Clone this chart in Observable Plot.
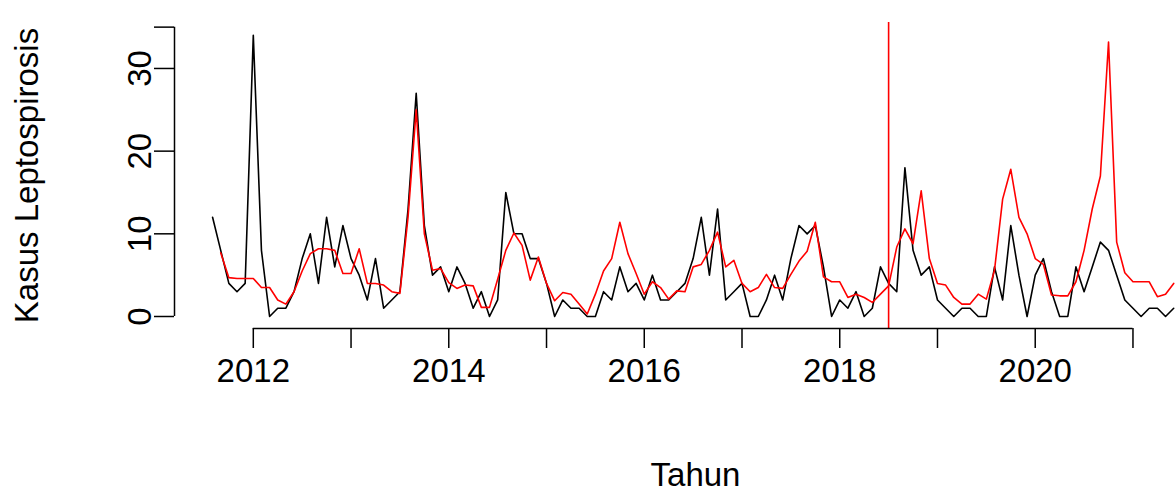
<!DOCTYPE html>
<html><head><meta charset="utf-8">
<script src="https://cdn.jsdelivr.net/npm/d3@7"></script>
<script src="https://cdn.jsdelivr.net/npm/@observablehq/plot@0.6"></script>
<style>html,body{margin:0;padding:0;background:#fff} svg{display:block}</style>
</head><body><div id="chart"></div>
<script>
// Monthly series, starting August 2011
const startYear = 2011, startMonth = 8;
const aktual = [
  12, 8, 4, 3, 4,
  34, 8, 0, 1, 1, 3, 7, 10, 4, 12, 6, 11,
  7, 5, 2, 7, 1, 2, 3, 13, 27, 11, 5, 6,
  3, 6, 4, 1, 3, 0, 2, 15, 10, 10, 7, 7,
  4, 0, 2, 1, 1, 0, 0, 3, 2, 6, 3, 4,
  2, 5, 2, 2, 3, 4, 7, 12, 5, 13, 2, 3,
  4, 0, 0, 2, 5, 2, 7, 11, 10, 11, 6, 0,
  2, 1, 3, 0, 1, 6, 4, 3, 18, 8, 5, 6,
  2, 1, 0, 1, 1, 0, 0, 6, 2, 11, 5, 0,
  5, 7, 3, 0, 0, 6, 3, 6, 9, 8, 5, 2,
  1, 0, 1, 1, 0, 1
];
const prediksi = [
  null, 7.7, 4.7, 4.6, 4.6,
  4.6, 3.5, 3.5, 2, 1.5, 3, 5.5, 7.6, 8.2, 8.2, 8, 5.2,
  5.2, 8.2, 4, 4, 3.8, 3, 2.8, 12, 25, 10, 5.6, 5.8,
  4.1, 3.4, 3.8, 3.7, 1.1, 1.1, 4.5, 8, 10.1, 8.6, 4.4, 7.2,
  4, 1.9, 2.9, 2.7, 1.5, 0.3, 2.7, 5.5, 7, 11.4, 7.6, 5.2,
  2.7, 4.2, 3.5, 2.1, 3.1, 3, 6, 6.3, 8, 10.2, 6, 6.8,
  4, 3, 3.5, 5.1, 3.5, 3.4, 5.1, 6.7, 7.9, 11.4, 4.8, 4.2,
  4.2, 2.3, 2.7, 2.3, 1.7, 2.7, 3.7, 8.4, 10.6, 8.8, 15.2, 7,
  4, 3.8, 2.3, 1.5, 1.5, 2.7, 2.1, 5.6, 14.2, 17.8, 12, 10,
  7, 6.3, 2.6, 2.5, 2.5, 4.2, 8, 13, 17, 33.2, 9, 5.3,
  4.2, 4.2, 4.2, 2.4, 2.7, 4
];
const xTicks = [2012, 2013, 2014, 2015, 2016, 2017, 2018, 2019, 2020, 2021];
const yTicks = [0, 10, 20, 30, 35];
const batas = [2018.5];
const xLabel = "Tahun";
const yLabel = "Kasus Leptospirosis";

const rows = aktual.map((v, i) => ({
  t: startYear + (startMonth - 1 + i) / 12,
  aktual: v,
  prediksi: prediksi[i]
}));

const font = "'Liberation Sans', Arial, Helvetica, sans-serif";
const chart = Plot.plot({
  width: 1176, height: 494,
  marginLeft: 174, marginRight: 0, marginTop: 22, marginBottom: 166,
  x: {domain: [2011.1938, 2021.4454]},
  y: {domain: [-1.452, 35.56]},
  style: {fontFamily: font, fontSize: "33px", background: "white", color: "black", overflow: "visible"},
  marks: [
    Plot.line(rows, {x: "t", y: "aktual", stroke: "black", strokeWidth: 1.6}),
    Plot.line(rows, {x: "t", y: "prediksi", stroke: "#ff0000", strokeWidth: 1.6}),
    Plot.ruleX(batas, {stroke: "#ff0000", strokeWidth: 1.6}),
    Plot.ruleY([-1.452], {x1: xTicks[0], x2: xTicks[xTicks.length - 1], stroke: "black", strokeWidth: 1.5}),
    Plot.axisX(xTicks, {anchor: "bottom", tickSize: 20, tickPadding: 10, strokeWidth: 1.5,
      tickFormat: d => d % 2 === 0 ? String(d) : "", fontSize: 33, label: null}),
    Plot.ruleX([2011.1938], {y1: yTicks[0], y2: yTicks[yTicks.length - 1], stroke: "black", strokeWidth: 1.5}),
    Plot.axisY(yTicks, {anchor: "left", tickSize: 20, tickPadding: 4, tickRotate: -90, strokeWidth: 1.5,
      tickFormat: d => d % 10 === 0 ? String(d) : "", fontSize: 33, label: null}),
    Plot.text([xLabel], {frameAnchor: "bottom", dx: 20, dy: 157, lineAnchor: "bottom", textAnchor: "middle", fontSize: 33}),
    Plot.text([yLabel], {frameAnchor: "left", dx: -137, rotate: -90, lineAnchor: "bottom", textAnchor: "middle", fontSize: 33})
  ]
});
document.getElementById("chart").appendChild(chart);
</script>
</body></html>
